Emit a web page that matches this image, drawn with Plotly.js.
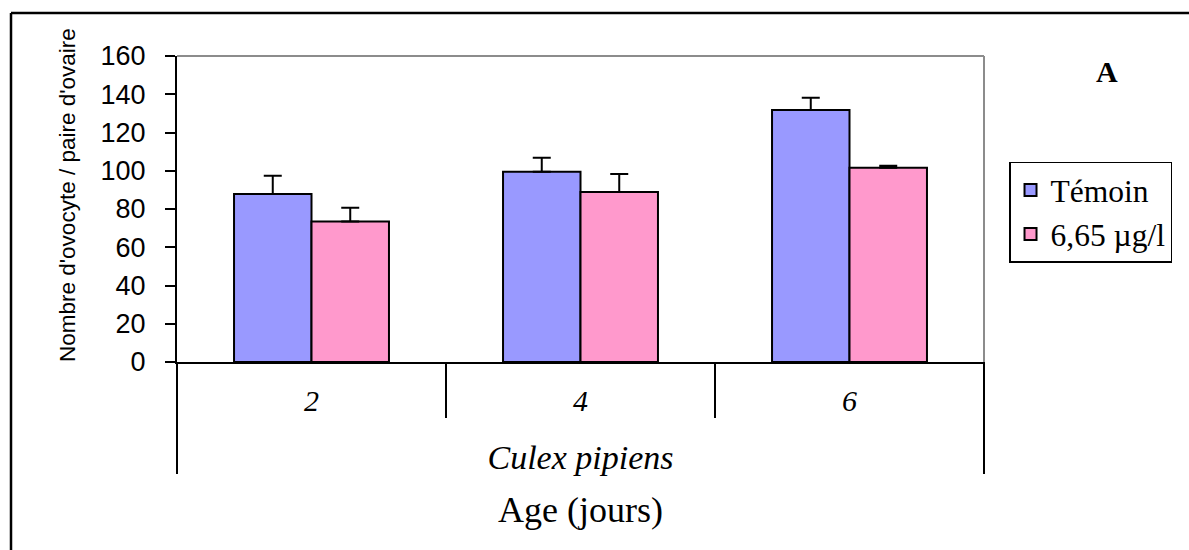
<!DOCTYPE html>
<html>
<head>
<meta charset="utf-8">
<script src="https://cdn.plot.ly/plotly-3.0.1.min.js"></script>
<style>
  html, body { margin: 0; padding: 0; background: #ffffff; }
  #chart { width: 1189px; height: 550px; }
</style>
</head>
<body>
<div id="chart"></div>
<script>
// Oocyte counts per pair of ovaries by female age (days), Culex pipiens
const ages = ['2', '4', '6'];
const temoinMean = [87.8, 99.5, 131.8];
const temoinErr = [9.6, 7.3, 6.4];
const traiteMean = [73.4, 88.9, 101.6];
const traiteErr = [7.3, 9.4, 1.0];
const seriesNames = ['Témoin', '6,65 µg/l'];
const yTitle = "Nombre d'ovocyte / paire d'ovaire";

const SERIF = '"Times New Roman", "Liberation Serif", serif';
const SANS = 'Arial, "Liberation Sans", sans-serif';

const barTrace = (name, y, err, color) => ({
  type: 'bar',
  name: name,
  x: ages,
  y: y,
  marker: { color: color, line: { color: '#000000', width: 2 } },
  error_y: { type: 'data', array: err, visible: true, symmetric: false,
             color: '#000000', thickness: 2, width: 9 }
});

const data = [
  barTrace(seriesNames[0], temoinMean, temoinErr, '#9999ff'),
  barTrace(seriesNames[1], traiteMean, traiteErr, '#ff99cc')
];

// category separators below the axis, at the borders between ages
const n = ages.length;
const shapes = [];
for (let i = 0; i <= n; i++) {
  const outer = (i === 0 || i === n);
  shapes.push({ type: 'line', xref: 'paper', yref: 'paper',
    x0: i / n, x1: i / n, y0: 0, y1: outer ? -0.366 : -0.183,
    line: { color: '#000000', width: 2 } });
}
// light grey closing edges of the plotting area
shapes.push({ type: 'line', xref: 'paper', yref: 'paper', x0: 0, x1: 1, y0: 1, y1: 1,
  line: { color: '#8c8c8c', width: 2 } });
shapes.push({ type: 'line', xref: 'paper', yref: 'paper', x0: 1, x1: 1, y0: 0, y1: 1,
  line: { color: '#8c8c8c', width: 2 } });
// outer frame (top and left edges)
shapes.push({ type: 'line', xref: 'paper', yref: 'paper', x0: -0.2057, x1: 1.3, y0: 1.1405, y1: 1.1405,
  line: { color: '#000000', width: 2.5 } });
shapes.push({ type: 'line', xref: 'paper', yref: 'paper', x0: -0.2057, x1: -0.2057, y0: 1.1405, y1: -0.7,
  line: { color: '#000000', width: 2.5 } });

const layout = {
  width: 1189,
  height: 550,
  margin: { l: 177, r: 205, t: 56, b: 188 },
  paper_bgcolor: '#ffffff',
  plot_bgcolor: '#ffffff',
  barmode: 'group',
  bargap: 0.424,
  bargroupgap: 0,
  showlegend: true,
  legend: {
    x: 1.031, xanchor: 'left', y: 0.655, yanchor: 'top',
    bordercolor: '#000000', borderwidth: 1.5, bgcolor: '#ffffff',
    font: { family: SERIF, size: 31.5, color: '#000000' },
    tracegroupgap: 0
  },
  xaxis: {
    type: 'category',
    range: [-0.5, 2.5],
    showline: true, linecolor: '#000000', linewidth: 2,
    ticks: '', showgrid: false, zeroline: false,
    tickfont: { family: SERIF, size: 30, style: 'italic', color: '#000000' },
    ticklabelstandoff: 11,
    title: { text: 'Culex pipiens', standoff: 29,
             font: { family: SERIF, size: 34, style: 'italic', color: '#000000' } },
    fixedrange: true
  },
  yaxis: {
    range: [0, 160],
    dtick: 20,
    showline: true, linecolor: '#000000', linewidth: 2,
    ticks: 'outside', ticklen: 10, tickwidth: 2, tickcolor: '#000000',
    showgrid: false, zeroline: false,
    tickfont: { family: SANS, size: 27, color: '#000000' },
    ticklabelstandoff: 14,
    fixedrange: true
  },
  shapes: shapes,
  annotations: [
    { text: yTitle, textangle: -90, xref: 'paper', yref: 'paper', x: -0.135, y: 0.546,
      xanchor: 'center', yanchor: 'middle', showarrow: false,
      font: { family: SANS, size: 22.5, color: '#000000' } },
    { text: 'Age (jours)', xref: 'paper', yref: 'paper', x: 0.5, y: -0.484,
      xanchor: 'center', yanchor: 'middle', showarrow: false,
      font: { family: SERIF, size: 36, color: '#000000' } },
    { text: '<b>A</b>', xref: 'paper', yref: 'paper', x: 1.152, y: 0.948,
      xanchor: 'center', yanchor: 'middle', showarrow: false,
      font: { family: SERIF, size: 30, color: '#000000' } }
  ]
};

Plotly.newPlot('chart', data, layout, { displayModeBar: false, staticPlot: true });
</script>
</body>
</html>
